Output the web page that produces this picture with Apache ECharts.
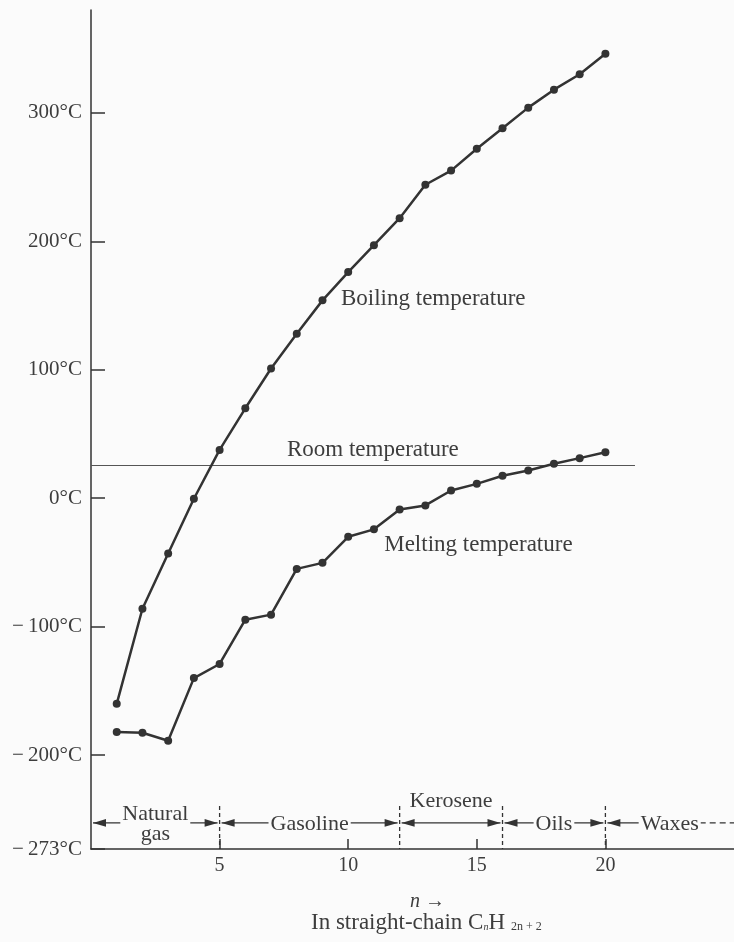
<!DOCTYPE html>
<html>
<head>
<meta charset="utf-8">
<script src="https://cdn.jsdelivr.net/npm/echarts@6/dist/echarts.min.js"></script>
<style>
html,body{margin:0;padding:0;background:#fbfbfb;}
#chart{width:734px;height:942px;}
</style>
</head>
<body>
<div id="chart"></div>
<script>
// ---------------- data ----------------
const nValues   = [1, 2, 3, 4, 5, 6, 7, 8, 9, 10, 11, 12, 13, 14, 15, 16, 17, 18, 19, 20];
const boilingC  = [-160, -86, -43, -0.4, 37.6, 70, 101, 128, 154, 176, 197, 218, 244, 255, 272, 288, 304, 318, 330, 346];
const meltingC  = [-182, -182.5, -188.7, -140, -129, -94.5, -90.6, -55, -50.3, -30, -24.2, -8.7, -5.6, 6, 11.2, 17.5, 21.6, 26.8, 31.2, 35.8];
const roomTempC = 26;
const yTicks    = [-273, -200, -100, 0, 100, 200, 300];
const xTicks    = [5, 10, 15, 20];
const bandNames = ['Natural\ngas', 'Gasoline', 'Kerosene', 'Oils', 'Waxes'];
const bandStart = [0, 5, 12, 16, 20];
const bandEnd   = [5, 12, 16, 20, 25];
const dividers  = [5, 12, 16, 20];
const curveLabels = ['Boiling temperature', 'Room temperature', 'Melting temperature'];

// ---------------- layout / style ----------------
const FONT = '"Liberation Serif", "Times New Roman", serif';
const INK = '#333';
const TXT = '#3d3d3d';
const BG = '#fbfbfb';
const roomLineEndN = 21.15;
const bandRowC = -252.7;
const dividerTopC = -239.5;
const yMin = -273, yMax = 380;
const labelAnchorN = [9.72, 7.62, 11.4];
const labelAnchorC = [155, 37.5, -36.4];
const bandLabelAbove = [false, false, true, false, false];

const chart = echarts.init(document.getElementById('chart'), null, {renderer: 'canvas'});

function fmtY(v) {
  if (v < 0) return '\u2212\u2009' + Math.abs(v) + '°C';
  return v + '°C';
}

const option = {
  backgroundColor: BG,
  animation: false,
  grid: {left: 91, right: 0, top: 10, bottom: 93},
  xAxis: {
    type: 'value', min: 0, max: 25,
    axisLine: {show: true, onZero: false, lineStyle: {color: INK, width: 1.5}},
    axisTick: {show: true, inside: true, length: 10, customValues: xTicks, lineStyle: {color: INK, width: 1.5}},
    axisLabel: {customValues: xTicks, color: TXT, fontFamily: FONT, fontSize: 20, margin: 7},
    splitLine: {show: false}
  },
  yAxis: {
    type: 'value', min: yMin, max: yMax,
    axisLine: {show: true, onZero: false, lineStyle: {color: INK, width: 1.5}},
    axisTick: {show: true, inside: true, length: 14, customValues: yTicks, lineStyle: {color: INK, width: 1.5}},
    axisLabel: {customValues: yTicks, formatter: fmtY, color: TXT, fontFamily: FONT, fontSize: 21, margin: 9},
    splitLine: {show: false}
  },
  series: [
    {
      type: 'line', name: 'Melting', z: 5,
      data: nValues.map((n, i) => [n, meltingC[i]]),
      symbol: 'circle', symbolSize: 8,
      lineStyle: {color: INK, width: 2.5}, itemStyle: {color: INK},
      markLine: {
        silent: true, symbol: ['none', 'none'], z: 1,
        lineStyle: {color: '#555', width: 1.2, type: 'solid'},
        label: {show: false},
        data: [[{coord: [0, roomTempC]}, {coord: [roomLineEndN, roomTempC]}]]
      }
    },
    {
      type: 'line', name: 'Boiling', z: 5,
      data: nValues.map((n, i) => [n, boilingC[i]]),
      symbol: 'circle', symbolSize: 8,
      lineStyle: {color: INK, width: 2.5}, itemStyle: {color: INK}
    },
    {
      type: 'custom', name: 'dividers', clip: false, z: 3,
      data: dividers.map(d => [d]),
      encode: {x: 0},
      renderItem: function (params, api) {
        const t = api.coord([api.value(0), dividerTopC]);
        const b = api.coord([api.value(0), yMin]);
        return {type: 'line', shape: {x1: t[0], y1: t[1], x2: b[0], y2: b[1]},
          style: {stroke: INK, lineWidth: 1.3, lineDash: [4, 3]}};
      }
    },
    {
      type: 'custom', name: 'bands', clip: false, z: 4,
      data: bandStart.map((s, i) => [s, bandEnd[i], bandRowC]),
      encode: {x: [0, 1], y: 2},
      renderItem: function (params, api) {
        const i = params.dataIndex;
        const last = i === bandNames.length - 1;
        const a = api.coord([api.value(0), api.value(2)]);
        const b = api.coord([api.value(1), api.value(2)]);
        const y = a[1];
        const ax = a[0] + 2, bx = b[0] - 2;
        const cx = (a[0] + b[0]) / 2;
        const ah = 13, aw = 3.8;
        const children = [];
        if (last) {
          children.push({type: 'line', shape: {x1: ax, y1: y, x2: cx, y2: y}, style: {stroke: INK, lineWidth: 1.3}});
          children.push({type: 'line', shape: {x1: cx, y1: y, x2: b[0], y2: y}, style: {stroke: INK, lineWidth: 1.3, lineDash: [6, 4]}});
        } else {
          children.push({type: 'line', shape: {x1: ax, y1: y, x2: bx, y2: y}, style: {stroke: INK, lineWidth: 1.3}});
          children.push({type: 'polygon', shape: {points: [[bx, y], [bx - ah, y - aw], [bx - ah, y + aw]]}, style: {fill: INK}});
        }
        children.push({type: 'polygon', shape: {points: [[ax, y], [ax + ah, y - aw], [ax + ah, y + aw]]}, style: {fill: INK}});
        const above = bandLabelAbove[i];
        children.push({
          type: 'text', z2: 10,
          style: {
            text: bandNames[i], x: cx, y: above ? y - 22 : y + 1.5,
            align: 'center', verticalAlign: 'middle',
            font: '22px ' + FONT, fill: TXT, lineHeight: 20,
            backgroundColor: above ? 'transparent' : BG, padding: [0, 2]
          }
        });
        return {type: 'group', children: children};
      }
    },
    {
      type: 'custom', name: 'labels', clip: false, z: 6,
      data: labelAnchorN.map((n, i) => [n, labelAnchorC[i]]),
      encode: {x: 0, y: 1},
      renderItem: function (params, api) {
        const p = api.coord([api.value(0), api.value(1)]);
        return {type: 'text', style: {
          text: curveLabels[params.dataIndex], x: p[0], y: p[1],
          align: 'left', verticalAlign: 'middle', font: '23px ' + FONT, fill: TXT
        }};
      }
    }
  ],
  graphic: [
    {type: 'text', left: 410, top: 892, style: {text: 'n \u2192', font: 'italic 20px ' + FONT, fill: TXT}},
    {type: 'text', left: 311, top: 911, style: {
      text: 'In straight-chain C{s|n}H{s2| 2n + 2}',
      font: '23px ' + FONT, fill: TXT,
      rich: {
        s: {fontSize: 10, fontStyle: 'italic', fontFamily: FONT, fill: TXT, padding: [10, 0, 0, 0]},
        s2: {fontSize: 12, fontFamily: FONT, fill: TXT, padding: [8, 0, 0, 3]}
      }
    }}
  ]
};
chart.setOption(option);
</script>
</body>
</html>
